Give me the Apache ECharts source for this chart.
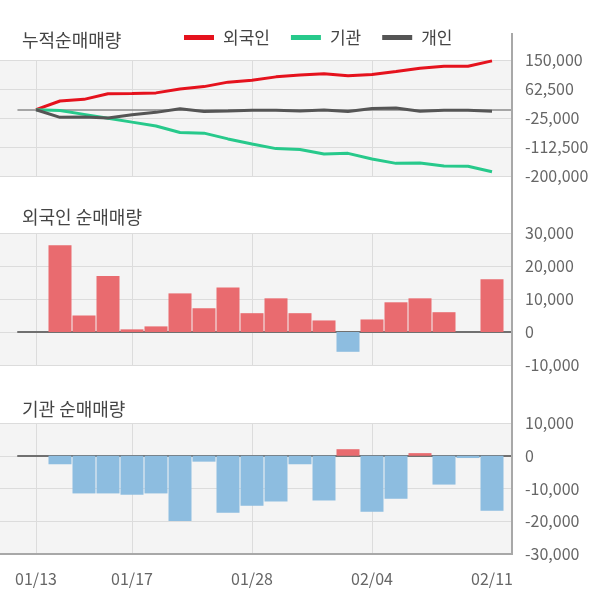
<!DOCTYPE html>
<html><head><meta charset="utf-8">
<script src="https://cdn.jsdelivr.net/npm/echarts@6/dist/echarts.min.js"></script>
<style>html,body{margin:0;padding:0;background:#fff}#c{width:600px;height:604px}</style>
</head><body><div id="c"></div>
<script>
const dates = ['01/13','01/14','01/15','01/16','01/17','01/20','01/21','01/22','01/23','01/28','01/29','01/30','01/31','02/03','02/04','02/05','02/06','02/07','02/10','02/11'];
const labelIdx = [0, 4, 9, 14, 19];
const gridIdx = [0, 4, 9, 14];
const foreignCum = [0, 26300, 31300, 48300, 49100, 50800, 62500, 69700, 83200, 88900, 99100, 104800, 108300, 102300, 106100, 115100, 125300, 131300, 131300, 147300];
const instCum = [0, -2600, -14100, -25600, -37500, -49000, -68900, -70700, -88100, -103400, -117400, -120000, -133700, -131700, -148800, -161900, -161100, -169900, -170600, -187400];
const indivCum = [0, -23000, -22000, -25000, -15000, -8000, 3000, -5500, -3600, -1500, -1500, -3600, -600, -5500, 3600, 5500, -4500, -1500, -1500, -4500];
const foreignNet = [0, 26300, 5000, 17000, 800, 1700, 11700, 7200, 13500, 5700, 10200, 5700, 3500, -6000, 3800, 9000, 10200, 6000, 0, 16000];
const instNet = [0, -2600, -11500, -11500, -11900, -11500, -19900, -1800, -17400, -15300, -14000, -2600, -13700, 2000, -17100, -13100, 800, -8800, -700, -16800];
const cumTicks = {min: -200000, max: 150000, interval: 87500};
const foreignTicks = {min: -10000, max: 30000, interval: 10000};
const instTicks = {min: -30000, max: 10000, interval: 10000};

const FONT = 'Noto Sans CJK KR';
const panels = [
  {top: 60, height: 116, ticks: cumTicks, zeroColor: '#8a8a8a', zeroWidth: 1.5},
  {top: 233, height: 132, ticks: foreignTicks, zeroColor: '#707070', zeroWidth: 2},
  {top: 423, height: 131, ticks: instTicks, zeroColor: '#707070', zeroWidth: 2}
];
const grid = [], xAxis = [], yAxis = [];
panels.forEach((p, k) => {
  grid.push({left: 0, width: 512, top: p.top, height: p.height, show: true, backgroundColor: '#f4f4f4', borderWidth: 0});
  grid.push({left: 18, width: 494, top: p.top, height: p.height});
  grid.push({left: 36, width: 456, top: p.top, height: p.height});
  const last = k === 2;
  xAxis.push({gridIndex: 3*k, type: 'value', min: 0, max: 1, show: last,
    axisLine: {show: last, onZero: false, lineStyle: {color: '#a8a8a8', width: 2}},
    axisTick: {show: false}, axisLabel: {show: false}, splitLine: {show: false}});
  xAxis.push({gridIndex: 3*k+1, type: 'value', min: 0, max: 1,
    axisLine: {show: true, onZero: true, lineStyle: {color: p.zeroColor, width: p.zeroWidth}},
    axisTick: {show: false}, axisLabel: {show: false}, splitLine: {show: false}});
  xAxis.push({gridIndex: 3*k+2, type: 'category', data: dates, boundaryGap: false, position: 'bottom',
    axisLine: {show: false}, axisTick: {show: false},
    axisLabel: {show: last, interval: (i) => labelIdx.includes(i), margin: 17, color: '#666', fontSize: 16, fontFamily: FONT},
    splitLine: {show: true, interval: (i) => gridIdx.includes(i), lineStyle: {color: '#dcdcdc', width: 1}}});
  const t = p.ticks;
  yAxis.push({gridIndex: 3*k, type: 'value', position: 'right', min: t.min, max: t.max, interval: t.interval,
    axisLine: {show: false}, axisTick: {show: false},
    axisLabel: {margin: 13, color: '#666', fontSize: 16, fontFamily: FONT, formatter: v => v.toLocaleString('en-US')},
    splitLine: {show: true, lineStyle: {color: '#dcdcdc', width: 1}}});
  yAxis.push({gridIndex: 3*k+1, type: 'value', min: t.min, max: t.max, interval: t.interval, show: false, splitLine: {show: false}});
  yAxis.push({gridIndex: 3*k+2, type: 'value', min: t.min, max: t.max, interval: t.interval, show: false, splitLine: {show: false}});
});

const RED = '#e5121d', GREEN = '#27c98b', DARK = '#555555';
const BAR_POS = '#e96b6f', BAR_NEG = '#8dbde0';
const lineSeries = (name, data, color) => ({
  name, type: 'line', xAxisIndex: 2, yAxisIndex: 2, data, symbol: 'none',
  lineStyle: {color, width: 3}, itemStyle: {color}, z: 3
});
const barSeries = (data, ax) => ({
  type: 'bar', xAxisIndex: ax, yAxisIndex: ax, data, barWidth: 23, clip: false,
  itemStyle: {color: (p) => p.value >= 0 ? BAR_POS : BAR_NEG}
});

const chart = echarts.init(document.getElementById('c'), null, {renderer: 'canvas'});
chart.setOption({
  animation: false,
  textStyle: {fontFamily: FONT},
  title: [
    {text: '누적순매매량', left: 22, top: 31, padding: 0, textStyle: {fontSize: 18, fontWeight: 'normal', color: '#444', fontFamily: FONT}},
    {text: '외국인 순매매량', left: 22, top: 208, padding: 0, textStyle: {fontSize: 18, fontWeight: 'normal', color: '#444', fontFamily: FONT}},
    {text: '기관 순매매량', left: 22, top: 400, padding: 0, textStyle: {fontSize: 18, fontWeight: 'normal', color: '#444', fontFamily: FONT}}
  ],
  legend: {
    data: ['외국인', '기관', '개인'], left: 184, top: 29, padding: 0,
    icon: 'rect', itemWidth: 30, itemHeight: 5, itemGap: 21,
    textStyle: {fontSize: 17, color: '#444', fontFamily: FONT, padding: [0, 0, 0, 4]}
  },
  grid, xAxis, yAxis,
  series: [
    lineSeries('외국인', foreignCum, RED),
    lineSeries('기관', instCum, GREEN),
    lineSeries('개인', indivCum, DARK),
    barSeries(foreignNet, 5),
    barSeries(instNet, 8)
  ],
  graphic: [{type: 'line', shape: {x1: 512, y1: 33, x2: 512, y2: 555}, style: {stroke: '#a8a8a8', lineWidth: 2}, z: 100}]
});
</script></body></html>
